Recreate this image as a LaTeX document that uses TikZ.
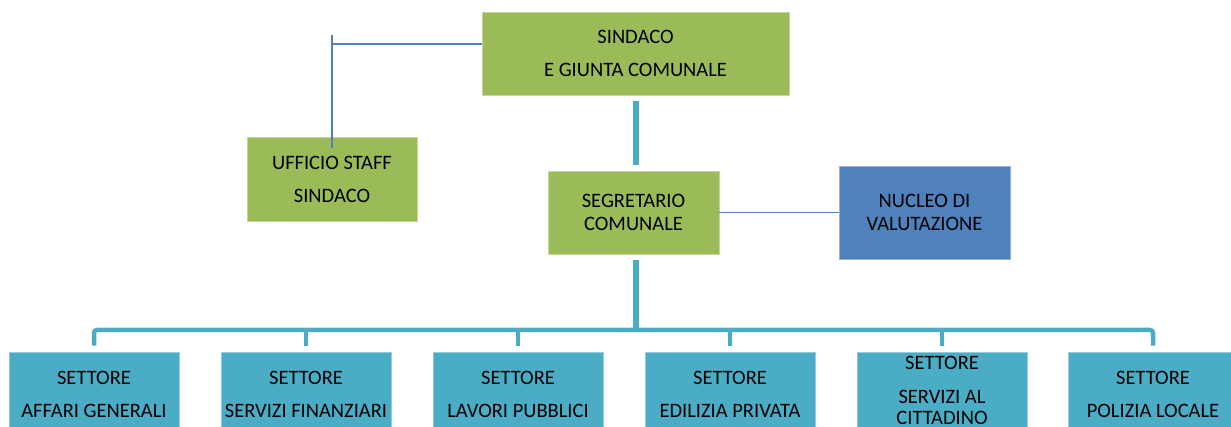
\documentclass[tikz,border=0pt]{standalone}
\usepackage{fontspec}
\setmainfont{Carlito}
\usepackage{tikz}

\definecolor{orggreen}{HTML}{9BBB59}
\definecolor{orgteal}{HTML}{4BACC6}
\definecolor{orgblue}{HTML}{4F81BD}

\begin{document}
\begin{tikzpicture}[x=1pt,y=-1pt]
\tikzstyle{every node}+=[inner sep=0pt, align=center, font=\fontsize{20.5}{23.5}\selectfont]
\tikzstyle{greenbox}=[fill=orggreen, draw=orggreen!60!white, line width=0.6pt]
\tikzstyle{bluebox}=[fill=orgblue, draw=orgblue!60!white, line width=0.6pt]
\tikzstyle{tealbox}=[fill=orgteal, draw=orgteal!60!white, line width=0.6pt, minimum width=170pt, minimum height=84pt]
\tikzstyle{staffline}=[draw=orgblue, line width=1.6pt]
\tikzstyle{trunk}=[draw=orgteal, line width=6pt]
\tikzstyle{bus}=[draw=orgteal, line width=4.5pt]
\useasboundingbox (0,0) rectangle (1231,427);
\clip (0,0) rectangle (1231,427);
% upper part
\node [greenbox, minimum width=307pt, minimum height=83pt] (sindaco) at (635.5,53.5) {SINDACO\\[9.5pt]E GIUNTA COMUNALE};
\node [greenbox, minimum width=170pt, minimum height=84pt] (ufficio) at (332,179) {UFFICIO STAFF\\[9.5pt]SINDACO};
\node [greenbox, minimum width=171pt, minimum height=83pt] (segretario) at (633.5,212.5) {SEGRETARIO\\COMUNALE};
\node [bluebox, minimum width=171pt, minimum height=93pt] (nucleo) at (924.5,212.5) {NUCLEO DI\\VALUTAZIONE};
% settori
\node [tealbox] (affari) at (94,394) {SETTORE\\[9.5pt]AFFARI GENERALI};
\node [tealbox] (finanze) at (306,394) {SETTORE\\[9.5pt]SERVIZI FINANZIARI};
\node [tealbox] (lavori) at (518,394) {SETTORE\\[9.5pt]LAVORI PUBBLICI};
\node [tealbox] (edilizia) at (730,394) {SETTORE\\[9.5pt]EDILIZIA PRIVATA};
\node [tealbox, text depth=7pt] (cittadino) at (942,394) {SETTORE\\[10.5pt]SERVIZI AL\\[-2.5pt]CITTADINO};
\node [tealbox] (polizia) at (1153,394) {SETTORE\\[9.5pt]POLIZIA LOCALE};
% staff connector
\coordinate (stafftop) at (332,35);
\coordinate (staffjoin) at ([yshift=9.5pt]sindaco.west);
\draw [staffline] (stafftop) -- ([yshift=-11pt]ufficio.north);
\draw [staffline] (staffjoin) -- (stafftop |- staffjoin);
\draw [staffline] (segretario.east) -- (segretario.east -| nucleo.west);
% trunks and bus
\coordinate (busmid) at (635.5,330);
\draw [trunk, shorten <=6pt, shorten >=6pt] (sindaco.south) -- (sindaco.south |- segretario.north);
\draw [trunk, shorten <=6pt] (sindaco.south |- segretario.south) -- ([yshift=2pt]busmid);
\draw [bus, rounded corners=3pt] ([yshift=6pt]affari.north) |- (busmid) -| ([yshift=6pt]polizia.north);
\draw [bus] ([yshift=6pt]finanze.north) -- (finanze.north |- busmid);
\draw [bus] ([yshift=6pt]lavori.north) -- (lavori.north |- busmid);
\draw [bus] ([yshift=6pt]edilizia.north) -- (edilizia.north |- busmid);
\draw [bus] ([yshift=6pt]cittadino.north) -- (cittadino.north |- busmid);
\end{tikzpicture}
\end{document}
